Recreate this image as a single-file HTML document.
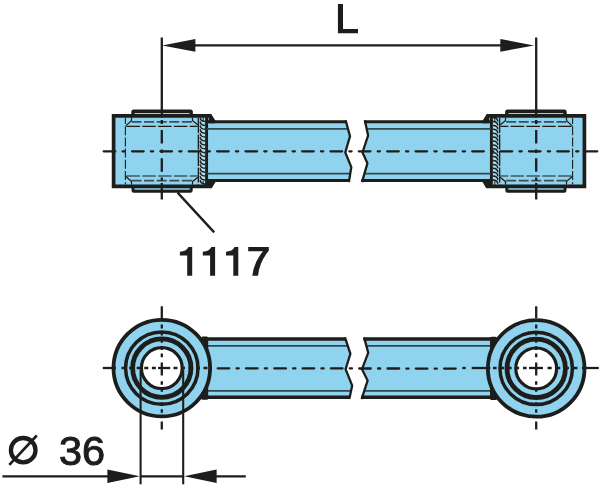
<!DOCTYPE html>
<html><head><meta charset="utf-8"><title>Drawing</title>
<style>
html,body{margin:0;padding:0;background:#fff;}
body{width:600px;height:487px;overflow:hidden;position:relative;font-family:"Liberation Sans",sans-serif;color:#1d1d1b;}
svg{position:absolute;left:0;top:0;display:block;}
.t{position:absolute;white-space:pre;line-height:1;margin:0;}
#t3{left:59.0px;top:430.0px;font-size:41.5px;will-change:transform;font-weight:normal;-webkit-text-stroke:1px #1d1d1b;}
</style></head>
<body>
<svg width="600" height="487" viewBox="0 0 600 487">
<polygon points="205.0,121.8 345.6,121.8 350.0,136.3 345.3,152.5 351.3,167.1 348.9,180.5 205.0,180.5" fill="#8fd3ee"/>
<polygon points="493.0,121.8 364.8,121.8 368.1,135.5 362.5,152.5 367.4,163.4 362.0,180.5 493.0,180.5" fill="#8fd3ee"/>
<rect x="133.0" y="111.3" width="58.2" height="8" rx="0.8" fill="#8fd3ee" stroke="#1d1d1b" stroke-width="3.4"/>
<rect x="133.0" y="183" width="58.2" height="8.2" rx="0.8" fill="#8fd3ee" stroke="#1d1d1b" stroke-width="3.0"/>
<polygon points="113.5,115.9 211.6,115.9 214.6,121.8 214.6,180.5 211.2,186.3 113.5,186.3" fill="#8fd3ee"/>
<rect x="199.0" y="118" width="6.2" height="66.5" fill="#a9ddf2"/>
<path d="M200.3,117.6 Q200.1,121.3 205.2,121.5 M200.3,121.5 Q200.1,125.2 205.2,125.4 M200.3,125.4 Q200.1,129.1 205.2,129.3 M200.3,129.3 Q200.1,133.0 205.2,133.2 M200.3,133.2 Q200.1,136.9 205.2,137.1 M200.3,137.1 Q200.1,140.8 205.2,141.0 M200.3,141.0 Q200.1,144.7 205.2,144.9 M200.3,144.9 Q200.1,148.6 205.2,148.8 M200.3,148.8 Q200.1,152.5 205.2,152.7 M200.3,152.7 Q200.1,156.4 205.2,156.6 M200.3,156.6 Q200.1,160.3 205.2,160.5 M200.3,160.5 Q200.1,164.2 205.2,164.4 M200.3,164.4 Q200.1,168.1 205.2,168.3 M200.3,168.3 Q200.1,172.0 205.2,172.2 M200.3,172.2 Q200.1,175.9 205.2,176.1 M200.3,176.1 Q200.1,179.8 205.2,180.0 M200.3,180.0 Q200.1,183.7 205.2,183.9" fill="none" stroke="#1d1d1b" stroke-width="1.5"/>
<line x1="198.4" y1="118" x2="198.4" y2="184.5" stroke="#1d1d1b" stroke-width="1.4" stroke-dasharray="15 1.5"/>
<line x1="203.2" y1="117" x2="203.2" y2="121" stroke="#1d1d1b" stroke-width="1"/>
<line x1="203.2" y1="181" x2="203.2" y2="185" stroke="#1d1d1b" stroke-width="1"/>
<line x1="209.2" y1="117" x2="209.2" y2="121" stroke="#1d1d1b" stroke-width="1"/>
<line x1="209.2" y1="181" x2="209.2" y2="185" stroke="#1d1d1b" stroke-width="1"/>
<line x1="206.6" y1="117" x2="206.6" y2="185" stroke="#1d1d1b" stroke-width="2.9"/>
<polyline points="211.3,115.9 113.6,115.9 113.6,186.3 211.8,186.3" fill="none" stroke="#1d1d1b" stroke-width="3.7" stroke-linejoin="miter"/>
<polygon points="209.0,117.4 211.2,114.1 215.2,120.3 215.2,123.2 209.0,123.2" fill="#1d1d1b"/>
<polygon points="206.0,188.1 211.9,188.1 215.2,182.4 215.2,179.1 206.0,179.1" fill="#1d1d1b"/>
<line x1="131.5" y1="121.8" x2="192.5" y2="121.8" stroke="#3c4f57" stroke-width="1.8" stroke-dasharray="10 2.6"/>
<line x1="131.5" y1="180.6" x2="192.5" y2="180.6" stroke="#3c4f57" stroke-width="1.8" stroke-dasharray="10 2.6"/>
<line x1="126.5" y1="126.4" x2="197.5" y2="126.4" stroke="#1d1d1b" stroke-width="1.15" stroke-dasharray="13.5 2.3"/>
<line x1="126.5" y1="176.0" x2="197.5" y2="176.0" stroke="#1d1d1b" stroke-width="1.15" stroke-dasharray="13.5 2.3"/>
<line x1="125.4" y1="118" x2="125.4" y2="184.5" stroke="#1d1d1b" stroke-width="1.1" stroke-dasharray="9 2.2" stroke-dashoffset="3"/>
<polyline points="131.6,117.5 131.4,120.8 125.8,125.9" fill="none" stroke="#1d1d1b" stroke-width="1.2"/>
<polyline points="192.4,117.5 192.6,120.8 198.0,125.0" fill="none" stroke="#1d1d1b" stroke-width="1.2"/>
<polyline points="131.6,184.6 131.4,181.4 125.8,176.5" fill="none" stroke="#1d1d1b" stroke-width="1.2"/>
<polyline points="192.4,184.6 192.6,181.4 198.0,177.3" fill="none" stroke="#1d1d1b" stroke-width="1.2"/>
<rect x="506.8" y="111.3" width="58.2" height="8" rx="0.8" fill="#8fd3ee" stroke="#1d1d1b" stroke-width="3.4"/>
<rect x="506.8" y="183" width="58.2" height="8.2" rx="0.8" fill="#8fd3ee" stroke="#1d1d1b" stroke-width="3.0"/>
<polygon points="584.5,115.9 486.4,115.9 483.4,121.8 483.4,180.5 486.8,186.3 584.5,186.3" fill="#8fd3ee"/>
<rect x="492.8" y="118" width="6.2" height="66.5" fill="#a9ddf2"/>
<path d="M492.8,117.6 Q497.9,117.8 497.7,121.5 M492.8,121.5 Q497.9,121.7 497.7,125.4 M492.8,125.4 Q497.9,125.6 497.7,129.3 M492.8,129.3 Q497.9,129.5 497.7,133.2 M492.8,133.2 Q497.9,133.4 497.7,137.1 M492.8,137.1 Q497.9,137.3 497.7,141.0 M492.8,141.0 Q497.9,141.2 497.7,144.9 M492.8,144.9 Q497.9,145.1 497.7,148.8 M492.8,148.8 Q497.9,149.0 497.7,152.7 M492.8,152.7 Q497.9,152.9 497.7,156.6 M492.8,156.6 Q497.9,156.8 497.7,160.5 M492.8,160.5 Q497.9,160.7 497.7,164.4 M492.8,164.4 Q497.9,164.6 497.7,168.3 M492.8,168.3 Q497.9,168.5 497.7,172.2 M492.8,172.2 Q497.9,172.4 497.7,176.1 M492.8,176.1 Q497.9,176.3 497.7,180.0 M492.8,180.0 Q497.9,180.2 497.7,183.9" fill="none" stroke="#1d1d1b" stroke-width="1.5"/>
<line x1="499.6" y1="118" x2="499.6" y2="184.5" stroke="#1d1d1b" stroke-width="1.4" stroke-dasharray="15 1.5"/>
<line x1="494.8" y1="117" x2="494.8" y2="121" stroke="#1d1d1b" stroke-width="1"/>
<line x1="494.8" y1="181" x2="494.8" y2="185" stroke="#1d1d1b" stroke-width="1"/>
<line x1="488.8" y1="117" x2="488.8" y2="121" stroke="#1d1d1b" stroke-width="1"/>
<line x1="488.8" y1="181" x2="488.8" y2="185" stroke="#1d1d1b" stroke-width="1"/>
<line x1="491.4" y1="117" x2="491.4" y2="185" stroke="#1d1d1b" stroke-width="2.9"/>
<polyline points="486.7,115.9 584.4,115.9 584.4,186.3 486.2,186.3" fill="none" stroke="#1d1d1b" stroke-width="3.7" stroke-linejoin="miter"/>
<polygon points="489.0,117.4 486.8,114.1 482.8,120.3 482.8,123.2 489.0,123.2" fill="#1d1d1b"/>
<polygon points="492.0,188.1 486.1,188.1 482.8,182.4 482.8,179.1 492.0,179.1" fill="#1d1d1b"/>
<line x1="566.5" y1="121.8" x2="505.5" y2="121.8" stroke="#3c4f57" stroke-width="1.8" stroke-dasharray="10 2.6"/>
<line x1="566.5" y1="180.6" x2="505.5" y2="180.6" stroke="#3c4f57" stroke-width="1.8" stroke-dasharray="10 2.6"/>
<line x1="571.5" y1="126.4" x2="500.5" y2="126.4" stroke="#1d1d1b" stroke-width="1.15" stroke-dasharray="13.5 2.3"/>
<line x1="571.5" y1="176.0" x2="500.5" y2="176.0" stroke="#1d1d1b" stroke-width="1.15" stroke-dasharray="13.5 2.3"/>
<line x1="572.6" y1="118" x2="572.6" y2="184.5" stroke="#1d1d1b" stroke-width="1.1" stroke-dasharray="9 2.2" stroke-dashoffset="3"/>
<polyline points="566.4,117.5 566.6,120.8 572.2,125.9" fill="none" stroke="#1d1d1b" stroke-width="1.2"/>
<polyline points="505.6,117.5 505.4,120.8 500.0,125.0" fill="none" stroke="#1d1d1b" stroke-width="1.2"/>
<polyline points="566.4,184.6 566.6,181.4 572.2,176.5" fill="none" stroke="#1d1d1b" stroke-width="1.2"/>
<polyline points="505.6,184.6 505.4,181.4 500.0,177.3" fill="none" stroke="#1d1d1b" stroke-width="1.2"/>
<line x1="207" y1="128.8" x2="347.6" y2="128.8" stroke="#2f474f" stroke-width="1.7"/>
<line x1="366.2" y1="128.8" x2="491" y2="128.8" stroke="#2f474f" stroke-width="1.7"/>
<line x1="207" y1="173.6" x2="350.2" y2="173.6" stroke="#2f474f" stroke-width="1.7"/>
<line x1="364.0" y1="173.6" x2="491" y2="173.6" stroke="#2f474f" stroke-width="1.7"/>
<path d="M205.5,121.8 H346.2 M205.5,180.5 H349.5 M364.2,121.8 H492.5 M361.4,180.5 H492.5" fill="none" stroke="#1d1d1b" stroke-width="3.1"/>
<polyline points="345.6,120.2 350.0,136.3 345.3,152.5 351.3,167.1 348.9,182.1" fill="none" stroke="#1d1d1b" stroke-width="2.3" stroke-linejoin="miter"/>
<polyline points="364.8,120.2 368.1,135.5 362.5,152.5 367.4,163.4 362.0,182.1" fill="none" stroke="#1d1d1b" stroke-width="2.3" stroke-linejoin="miter"/>
<line x1="103.7" y1="151.3" x2="597.5" y2="151.3" stroke="#1d1d1b" stroke-width="2.3" stroke-linecap="round" stroke-dasharray="11.6 7.28 2.2 7.27"/>
<line x1="161.8" y1="37.4" x2="161.8" y2="199.6" stroke="#1d1d1b" stroke-width="2.3" stroke-dasharray="80.2 2.4 4 6 13.5 6 3.4 5.4 13.5 5.6 3.2 2.4 20"/>
<line x1="536.2" y1="37.4" x2="536.2" y2="199.6" stroke="#1d1d1b" stroke-width="2.3" stroke-dasharray="80.2 2.4 4 6 13.5 6 3.4 5.4 13.5 5.6 3.2 2.4 20"/>
<line x1="190" y1="45.4" x2="505" y2="45.4" stroke="#1d1d1b" stroke-width="2.4"/>
<polygon points="162.2,45.4 195.4,39.1 195.4,51.7" fill="#1d1d1b"/>
<polygon points="534.0,45.4 500.3,39.0 500.3,51.8" fill="#1d1d1b"/>
<line x1="177.6" y1="192.6" x2="214.2" y2="232.4" stroke="#1d1d1b" stroke-width="2.3"/>
<polygon points="203.0,339.1 345.0,339.1 350.4,353.8 345.6,369.2 352.2,385.6 349.3,397.3 203.0,397.3" fill="#8fd3ee"/>
<polygon points="495.0,339.1 364.1,339.1 368.2,352.8 362.0,369.2 367.6,380.5 361.6,397.3 495.0,397.3" fill="#8fd3ee"/>
<line x1="205" y1="345.9" x2="347.3" y2="345.9" stroke="#2f474f" stroke-width="1.7"/>
<line x1="366.0" y1="345.9" x2="493" y2="345.9" stroke="#2f474f" stroke-width="1.7"/>
<line x1="205" y1="390.9" x2="350.9" y2="390.9" stroke="#2f474f" stroke-width="1.7"/>
<line x1="363.9" y1="390.9" x2="493" y2="390.9" stroke="#2f474f" stroke-width="1.7"/>
<path d="M203.0,339.1 H345.6 M203.0,397.3 H349.9 M363.5,339.1 H495.0 M361.0,397.3 H495.0" fill="none" stroke="#1d1d1b" stroke-width="3.5"/>
<polyline points="345.0,337.4 350.4,353.8 345.6,369.2 352.2,385.6 349.3,399.1" fill="none" stroke="#1d1d1b" stroke-width="2.3" stroke-linejoin="miter"/>
<polyline points="364.1,337.4 368.2,352.8 362.0,369.2 367.6,380.5 361.6,399.1" fill="none" stroke="#1d1d1b" stroke-width="2.3" stroke-linejoin="miter"/>
<rect x="201.2" y="336.5" width="7.0" height="63.2" rx="1.5" fill="#1d1d1b"/>
<rect x="490.0" y="336.7" width="7.0" height="63.2" rx="1.5" fill="#1d1d1b"/>
<circle cx="161.8" cy="368.1" r="48.3" fill="#8fd3ee" stroke="#1d1d1b" stroke-width="3.8"/>
<circle cx="161.8" cy="368.1" r="36.2" fill="none" stroke="#1d1d1b" stroke-width="3.5"/>
<circle cx="161.8" cy="368.1" r="29.2" fill="none" stroke="#1d1d1b" stroke-width="4.8"/>
<circle cx="161.8" cy="368.1" r="20.4" fill="#ffffff" stroke="#1d1d1b" stroke-width="3.2"/>
<circle cx="536.2" cy="368.4" r="48.3" fill="#8fd3ee" stroke="#1d1d1b" stroke-width="3.8"/>
<circle cx="536.2" cy="368.4" r="36.2" fill="none" stroke="#1d1d1b" stroke-width="3.5"/>
<circle cx="536.2" cy="368.4" r="29.2" fill="none" stroke="#1d1d1b" stroke-width="4.8"/>
<circle cx="536.2" cy="368.4" r="20.4" fill="#ffffff" stroke="#1d1d1b" stroke-width="3.2"/>
<line x1="140.6" y1="370.0" x2="140.6" y2="484.3" stroke="#1d1d1b" stroke-width="2.1"/>
<line x1="183.2" y1="370.0" x2="183.2" y2="484.3" stroke="#1d1d1b" stroke-width="2.1"/>
<line x1="102.8" y1="368.0" x2="116.0" y2="368.0" stroke="#1d1d1b" stroke-width="2.3"/>
<line x1="121.5" y1="368.0" x2="157.0" y2="368.0" stroke="#1d1d1b" stroke-width="2.3" stroke-dasharray="4 3.6"/>
<line x1="158.0" y1="368.0" x2="170.2" y2="368.0" stroke="#1d1d1b" stroke-width="2.3"/>
<line x1="173.5" y1="368.0" x2="212.0" y2="368.0" stroke="#1d1d1b" stroke-width="2.3" stroke-dasharray="4 3.5"/>
<line x1="217.7" y1="368.3" x2="460" y2="368.6" stroke="#1d1d1b" stroke-width="2.3" stroke-linecap="round" stroke-dasharray="11.6 7.25 2.2 7.25"/>
<line x1="462.3" y1="368.0" x2="465.8" y2="368.0" stroke="#1d1d1b" stroke-width="2.3"/>
<line x1="471.7" y1="368.0" x2="490.3" y2="368.0" stroke="#1d1d1b" stroke-width="2.3"/>
<line x1="493.0" y1="368.0" x2="527.0" y2="368.0" stroke="#1d1d1b" stroke-width="2.3" stroke-dasharray="3.6 3.9"/>
<line x1="529.0" y1="368.0" x2="543.0" y2="368.0" stroke="#1d1d1b" stroke-width="2.3"/>
<line x1="547.5" y1="368.0" x2="583.0" y2="368.0" stroke="#1d1d1b" stroke-width="2.3" stroke-dasharray="4.2 4.4"/>
<line x1="586.0" y1="368.0" x2="598.8" y2="368.0" stroke="#1d1d1b" stroke-width="2.3"/>
<line x1="161.8" y1="306.3" x2="161.8" y2="318.0" stroke="#1d1d1b" stroke-width="2.3"/>
<line x1="161.8" y1="324.6" x2="161.8" y2="360.0" stroke="#1d1d1b" stroke-width="2.3" stroke-dasharray="3.8 3.4"/>
<line x1="161.8" y1="362.5" x2="161.8" y2="375.5" stroke="#1d1d1b" stroke-width="2.3"/>
<line x1="161.8" y1="381.2" x2="161.8" y2="416.0" stroke="#1d1d1b" stroke-width="2.3" stroke-dasharray="3.6 3.4"/>
<line x1="161.8" y1="421.5" x2="161.8" y2="429.5" stroke="#1d1d1b" stroke-width="2.3"/>
<line x1="536.2" y1="306.3" x2="536.2" y2="318.0" stroke="#1d1d1b" stroke-width="2.3"/>
<line x1="536.2" y1="324.6" x2="536.2" y2="360.0" stroke="#1d1d1b" stroke-width="2.3" stroke-dasharray="3.8 3.4"/>
<line x1="536.2" y1="362.5" x2="536.2" y2="375.5" stroke="#1d1d1b" stroke-width="2.3"/>
<line x1="536.2" y1="381.2" x2="536.2" y2="416.0" stroke="#1d1d1b" stroke-width="2.3" stroke-dasharray="3.6 3.4"/>
<line x1="536.2" y1="421.5" x2="536.2" y2="429.5" stroke="#1d1d1b" stroke-width="2.3"/>
<line x1="2.4" y1="476.3" x2="112" y2="476.3" stroke="#1d1d1b" stroke-width="2.2"/>
<line x1="212" y1="476.3" x2="245.8" y2="476.3" stroke="#1d1d1b" stroke-width="2.2"/>
<line x1="140" y1="476.3" x2="184" y2="476.3" stroke="#1d1d1b" stroke-width="2.2"/>
<polygon points="139.8,476.3 107.4,469.5 107.4,483.1" fill="#1d1d1b"/>
<polygon points="184.2,476.3 216.6,469.5 216.6,483.1" fill="#1d1d1b"/>
<path d="M337.9,4 h5.1 v25.1 h15 v4.2 h-20.1 z" fill="#1d1d1b"/>
<path d="M192.20,247 V275.7 H187.20 V255.6 H179.90 V251.7 Q186.20,251.5 188.50,247 Z" fill="#1d1d1b"/>
<path d="M215.10,247 V275.7 H210.10 V255.6 H202.80 V251.7 Q209.10,251.5 211.40,247 Z" fill="#1d1d1b"/>
<path d="M238.30,247 V275.7 H233.30 V255.6 H226.00 V251.7 Q232.30,251.5 234.60,247 Z" fill="#1d1d1b"/>
<path d="M248.2,247 H268.8 V250.8 Q259.6,261.5 258.0,275.7 H252.3 Q254.0,262 263.0,251.2 H248.2 Z" fill="#1d1d1b"/>
<ellipse cx="23.2" cy="450.2" rx="12.3" ry="12.2" fill="none" stroke="#1d1d1b" stroke-width="4.3"/>
<line x1="9.3" y1="464.9" x2="36.8" y2="435.5" stroke="#1d1d1b" stroke-width="2.6"/>
</svg>
<div class="t" id="t3">36</div>
</body></html>
